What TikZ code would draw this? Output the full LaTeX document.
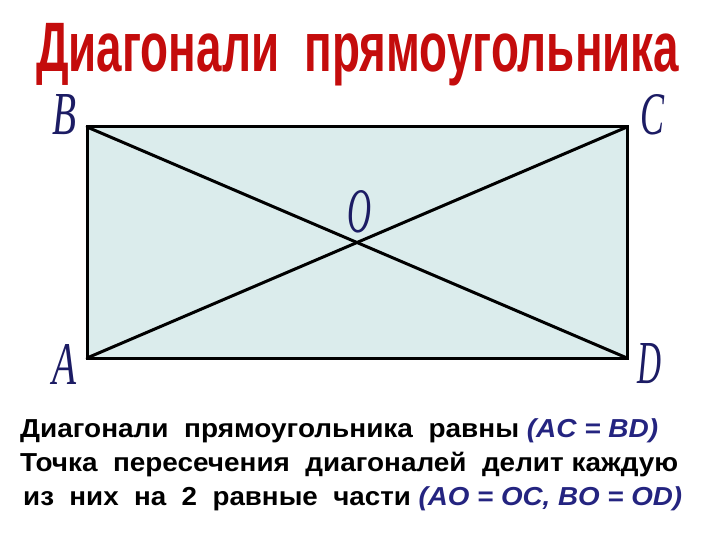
\documentclass[tikz,border=0pt]{standalone}
\usepackage{fontspec}
\usepackage{graphicx}
\setmainfont{Liberation Sans}
\newfontfamily\scrfont{Liberation Serif}
\definecolor{titlered}{RGB}{196,12,12}
\definecolor{navy}{RGB}{28,28,100}
\definecolor{formblue}{RGB}{36,36,128}
\definecolor{rectfill}{RGB}{219,236,236}
\tikzset{
  edge/.style={line width=3pt, line cap=round, line join=miter},
  vlabel/.style={inner sep=0pt, text=navy, anchor=center},
  textline/.style={inner sep=0pt, anchor=base west},
}
\newcommand{\vlet}[1]{\resizebox{24pt}{40pt}{\scrfont\itshape #1}}
\begin{document}
\begin{tikzpicture}[x=1pt,y=-1pt]
\useasboundingbox (0,0) rectangle (720,540);
% title
\node[textline, text=titlered] (title) at (36,72)
  {\resizebox{643pt}{\height}{\fontsize{70}{70}\selectfont\bfseries Диагонали~\ прямоугольника}};
% rectangle corners
\coordinate (A) at (87,358);
\coordinate (B) at (87,127);
\coordinate (C) at (627,127);
\coordinate (D) at (627,358);
\fill[rectfill] (A) rectangle (C);
\draw[edge] (A) -- (C);
\draw[edge] (B) -- (D);
\draw[edge] (A) -- (B) -- (C) -- (D) -- cycle;
% vertex labels
\node[vlabel] (lB) at (65,115) {\vlet{B}};
\node[vlabel] (lC) at (652,115) {\vlet{C}};
\node[vlabel] (lO) at (359,212) {\resizebox{24pt}{42pt}{\scrfont\itshape O}};
\node[vlabel] (lA) at (65,364) {\vlet{A}};
\node[vlabel] (lD) at (649,364) {\vlet{D}};
% text lines
\node[textline] (line1) at (20,437)
  {\resizebox{638pt}{\height}{\fontsize{26}{26}\selectfont\bfseries Диагонали~\ прямоугольника~\ равны \textcolor{formblue}{\itshape (AC = BD)}}};
\node[textline] (line2) at (20,471)
  {\resizebox{658pt}{\height}{\fontsize{26}{26}\selectfont\bfseries Точка~\ пересечения~\ диагоналей~\ делит каждую}};
\node[textline] (line3) at (23,505)
  {\resizebox{659pt}{\height}{\fontsize{26}{26}\selectfont\bfseries из~\ них~\ на~\ 2~\ равные~\ части \textcolor{formblue}{\itshape (AO = OC, BO = OD)}}};
\end{tikzpicture}
\end{document}
